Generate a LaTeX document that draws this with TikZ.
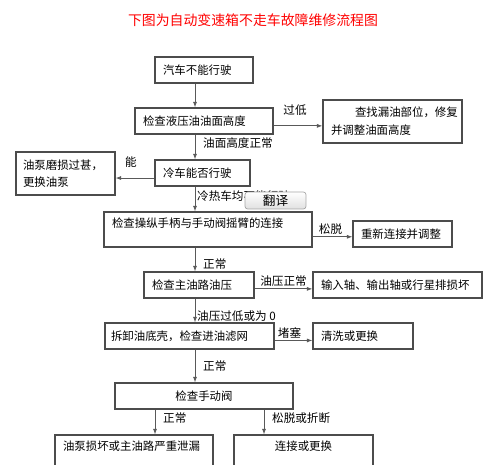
\documentclass[tikz,border=0pt]{standalone}
\usepackage{fontspec}
\newfontfamily\cjk{Noto Sans CJK SC}
\usetikzlibrary{arrows.meta}

\tikzset{
    stepbox/.style={shape=rectangle, draw=black!70, line width=0.6pt, inner ysep=0pt, inner xsep=0.16cm, align=left, font=\cjk\fontsize{6.5}{9.6}\selectfont},
    flow/.style={-{Latex[length=1.1mm, width=0.8mm]}, draw=black!65, line width=0.5pt},
    lbl/.style={font=\cjk\fontsize{6.6}{8}\selectfont, inner sep=1pt}
}

\begin{document}
\begin{tikzpicture}[x=0.02cm, y=-0.02cm]
        \useasboundingbox (0,0) rectangle (500,465);
        \clip (0,0) rectangle (500,465);
        \node[name=title, font=\cjk\fontsize{7.9}{9}\selectfont, text=red] at (253,20) {下图为自动变速箱不走车故障维修流程图};
        \coordinate (spine) at (195,0);
        \coordinate (lefttap) at (155,0);
        \coordinate (righttap) at (264,0);
        % main column
        \node[name=car, stepbox, text width=1.64cm, minimum height=0.52cm] at (204,70) {汽车不能行驶};
        \node[name=level, stepbox, text width=2.44cm, minimum height=0.52cm] at (204,121) {检查液压油油面高度};
        \node[name=cold, stepbox, text width=1.58cm, minimum height=0.52cm] at (202.5,173) {冷车能否行驶};
        \node[name=link, stepbox, text width=3.84cm, text height=0.32cm, text depth=0.38cm] at (208,229.5) {检查操纵手柄与手动阀摇臂的连接};
        \node[name=mainp, stepbox, text width=1.88cm, minimum height=0.52cm] at (199,285) {检查主油路油压};
        \node[name=filter, stepbox, inner xsep=0.12cm, text width=3.14cm, minimum height=0.52cm] at (189.5,336) {拆卸油底壳，检查进油滤网};
        \node[name=manual, stepbox, align=center, text width=3.24cm, minimum height=0.52cm] at (204,396) {检查手动阀};
        % side boxes
        \node[name=leak, stepbox, text width=2.46cm, minimum height=0.86cm, font=\cjk\fontsize{6.5}{10.2}\selectfont] at (392.5,121.5) {\hspace*{0.48cm}查找漏油部位，修复\\并调整油面高度};
        \node[name=worn, stepbox, inner xsep=0.14cm, text width=1.70cm, minimum height=0.86cm] at (65.5,173.5) {油泵磨损过甚，\\更换油泵};
        \node[name=loose, stepbox, text width=1.66cm, minimum height=0.52cm] at (402.5,234) {重新连接并调整};
        \node[name=shaft, stepbox, text width=3.06cm, minimum height=0.52cm] at (397.5,285) {输入轴、输出轴或行星排损坏};
        \node[name=clean, stepbox, text width=1.68cm, minimum height=0.52cm] at (363,336) {清洗或更换};
        \node[name=pumpbad, stepbox, text width=2.84cm, text height=0.30cm, text depth=0.50cm] at (134,455) {油泵损坏或主油路严重泄漏};
        \node[name=rejoin, stepbox, align=center, text width=2.46cm, text height=0.30cm, text depth=0.50cm] at (303.5,455) {连接或更换};
        % connectors
        \draw[flow] (car.south -| spine) -- (level.north -| spine);
        \draw[flow] (level.-4) -- node[lbl, midway, above, yshift=0.16cm, xshift=-0.06cm] {过低} (level.-4 -| leak.west);
        \draw[flow] (level.south -| spine) -- node[lbl, midway, right, xshift=0.12cm, yshift=0.08cm] {油面高度正常} (cold.north -| spine);
        \draw[flow] (cold.186) -- node[lbl, midway, above, yshift=0.16cm, xshift=-0.08cm] {能} (cold.186 -| worn.east);
        \draw[flow] (cold.south -| spine) -- node[lbl, midway, right, yshift=0.06cm] {冷热车均不能行驶} (link.north -| spine);
        \draw[flow] (link.-4) -- node[lbl, midway, above, xshift=-0.04cm] {松脱} (link.-4 -| loose.west);
        \draw[flow] (link.south -| spine) -- node[lbl, midway, right, xshift=0.12cm, yshift=-0.09cm] {正常} (mainp.north -| spine);
        \draw[flow] (mainp.-4) -- node[lbl, midway, above] {油压正常} (mainp.-4 -| shaft.west);
        \draw[flow] (mainp.south -| spine) -- node[lbl, midway, right, yshift=-0.11cm] {油压过低或为 0} (filter.north -| spine);
        \draw[flow] (filter.-3) -- node[lbl, midway, above, xshift=-0.08cm] {堵塞} (filter.-3 -| clean.west);
        \draw[flow] (filter.south -| spine) -- node[lbl, midway, right, xshift=0.12cm] {正常} (manual.north -| spine);
        \draw[flow] (manual.south -| lefttap) -- node[lbl, midway, right, xshift=0.12cm, yshift=0.08cm] {正常} (pumpbad.north -| lefttap);
        \draw[flow] (manual.south -| righttap) -- node[lbl, midway, right, xshift=0.12cm, yshift=0.08cm] {松脱或折断} (rejoin.north -| righttap);
        % overlay button
        \node[name=transbtn, shape=rectangle, rounded corners=1.5pt, draw=black!35, top color=white, bottom color=black!12, minimum width=1.22cm, minimum height=0.34cm, inner sep=0pt, font=\cjk\fontsize{7.2}{8}\selectfont] at (275.5,200.5) {翻译};
    \end{tikzpicture}
\end{document}
